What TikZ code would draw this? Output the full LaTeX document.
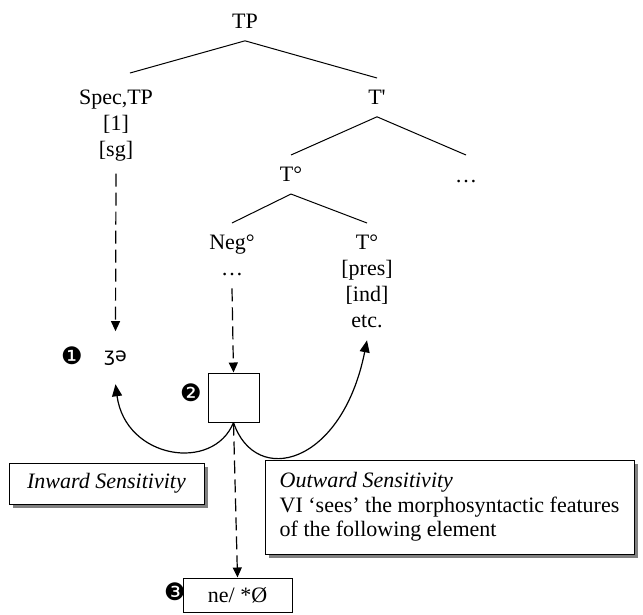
\documentclass[tikz,border=0pt]{standalone}
\usepackage{fontspec}
\setmainfont{Liberation Serif}
\newfontfamily\dingfont{DejaVu Sans}
\usetikzlibrary{arrows.meta,shadows}

\tikzstyle{cat}=[align=center, inner xsep=2pt, inner ysep=12pt, anchor=north]
\tikzstyle{branch}=[line width=1pt]
\tikzstyle{dashdep}=[-{Triangle[length=10pt,width=9pt]}, line width=1.2pt, dash pattern=on 13pt off 6pt]
\tikzstyle{sens}=[-{Triangle[length=12pt,width=10pt]}, line width=1.2pt]
\tikzstyle{frame}=[draw, line width=1pt, fill=white]
\tikzstyle{shadowed}=[frame, drop shadow={shadow xshift=4pt, shadow yshift=-4pt, fill=black!50, opacity=1}]
\tikzstyle{num}=[font=\dingfont\fontsize{24}{24}\selectfont, inner sep=0pt]

\begin{document}
\begin{tikzpicture}[x=1pt, y=1pt, every node/.style={font=\fontsize{22}{26}\selectfont}]
      \useasboundingbox (0,0) rectangle (643,-614);
      % tree
      \node[cat] (tp) at (245,-2) {TP};
      \node[cat] (spec) at (116,-78) {Spec,TP\\ {[1]}\\ {[sg]}};
      \node[cat] (tbar) at (377,-78) {T\textquotesingle};
      \node[cat] (tdeg) at (291,-155) {T°};
      \node[cat, text height=15pt] (dots) at (466,-155) {\dots};
      \node[cat] (neg) at (232,-223) {Neg°\\ \dots};
      \node[cat] (tfeat) at (367,-223) {T°\\ {[pres]}\\ {[ind]}\\ etc.};
      \draw[branch] (tp.south) -- ([xshift=14pt, yshift=5pt]spec.north);
      \draw[branch] (tp.south) -- (tbar.north);
      \draw[branch] (tbar.south) -- (tdeg.north);
      \draw[branch] (tbar.south) -- (dots.north);
      \draw[branch] (tdeg.south) -- (neg.north);
      \draw[branch] (tdeg.south) -- (tfeat.north);
      % exponents
      \node[font=\dingfont\fontsize{19}{19}\selectfont, inner xsep=2pt, inner ysep=19pt, anchor=base] (zhe) at (115.5,-361) {ʒə};
      \node[frame, minimum width=51pt, minimum height=49pt] (vi) at (233.5,-397.5) {};
      \node[frame, minimum width=109pt, minimum height=34pt] (ne) at (237.5,-595) {ne/ *Ø};
      \node[num] (one) at (72,-356) {❶};
      \node[num] (two) at (191,-393) {❷};
      \node[num] (three) at (175,-592) {❸};
      % boxes
      \node[shadowed, minimum width=195pt, minimum height=41pt] (inward) at (106.5,-483.5) {\itshape Inward Sensitivity};
      \node[shadowed, minimum width=369pt, minimum height=94pt, align=left, font=\fontsize{22}{24.5}\selectfont] (outward) at (449.5,-507)
        {{\itshape Outward Sensitivity}\\ VI ‘sees’ the morphosyntactic features\\ of the following element};
      % arrows
      \draw[dashdep] (spec.south) -- (zhe.north);
      \draw[dashdep] (neg.south) -- (vi.north);
      \draw[dashdep] (vi.south) -- (ne.north);
      \draw[sens] (vi.south) .. controls +(-20,-50) and +(10,-75) .. (zhe.south);
      \draw[sens] (vi.south) .. controls +(22,-65) and +(-25,-125) .. (tfeat.south);
    \end{tikzpicture}
\end{document}
